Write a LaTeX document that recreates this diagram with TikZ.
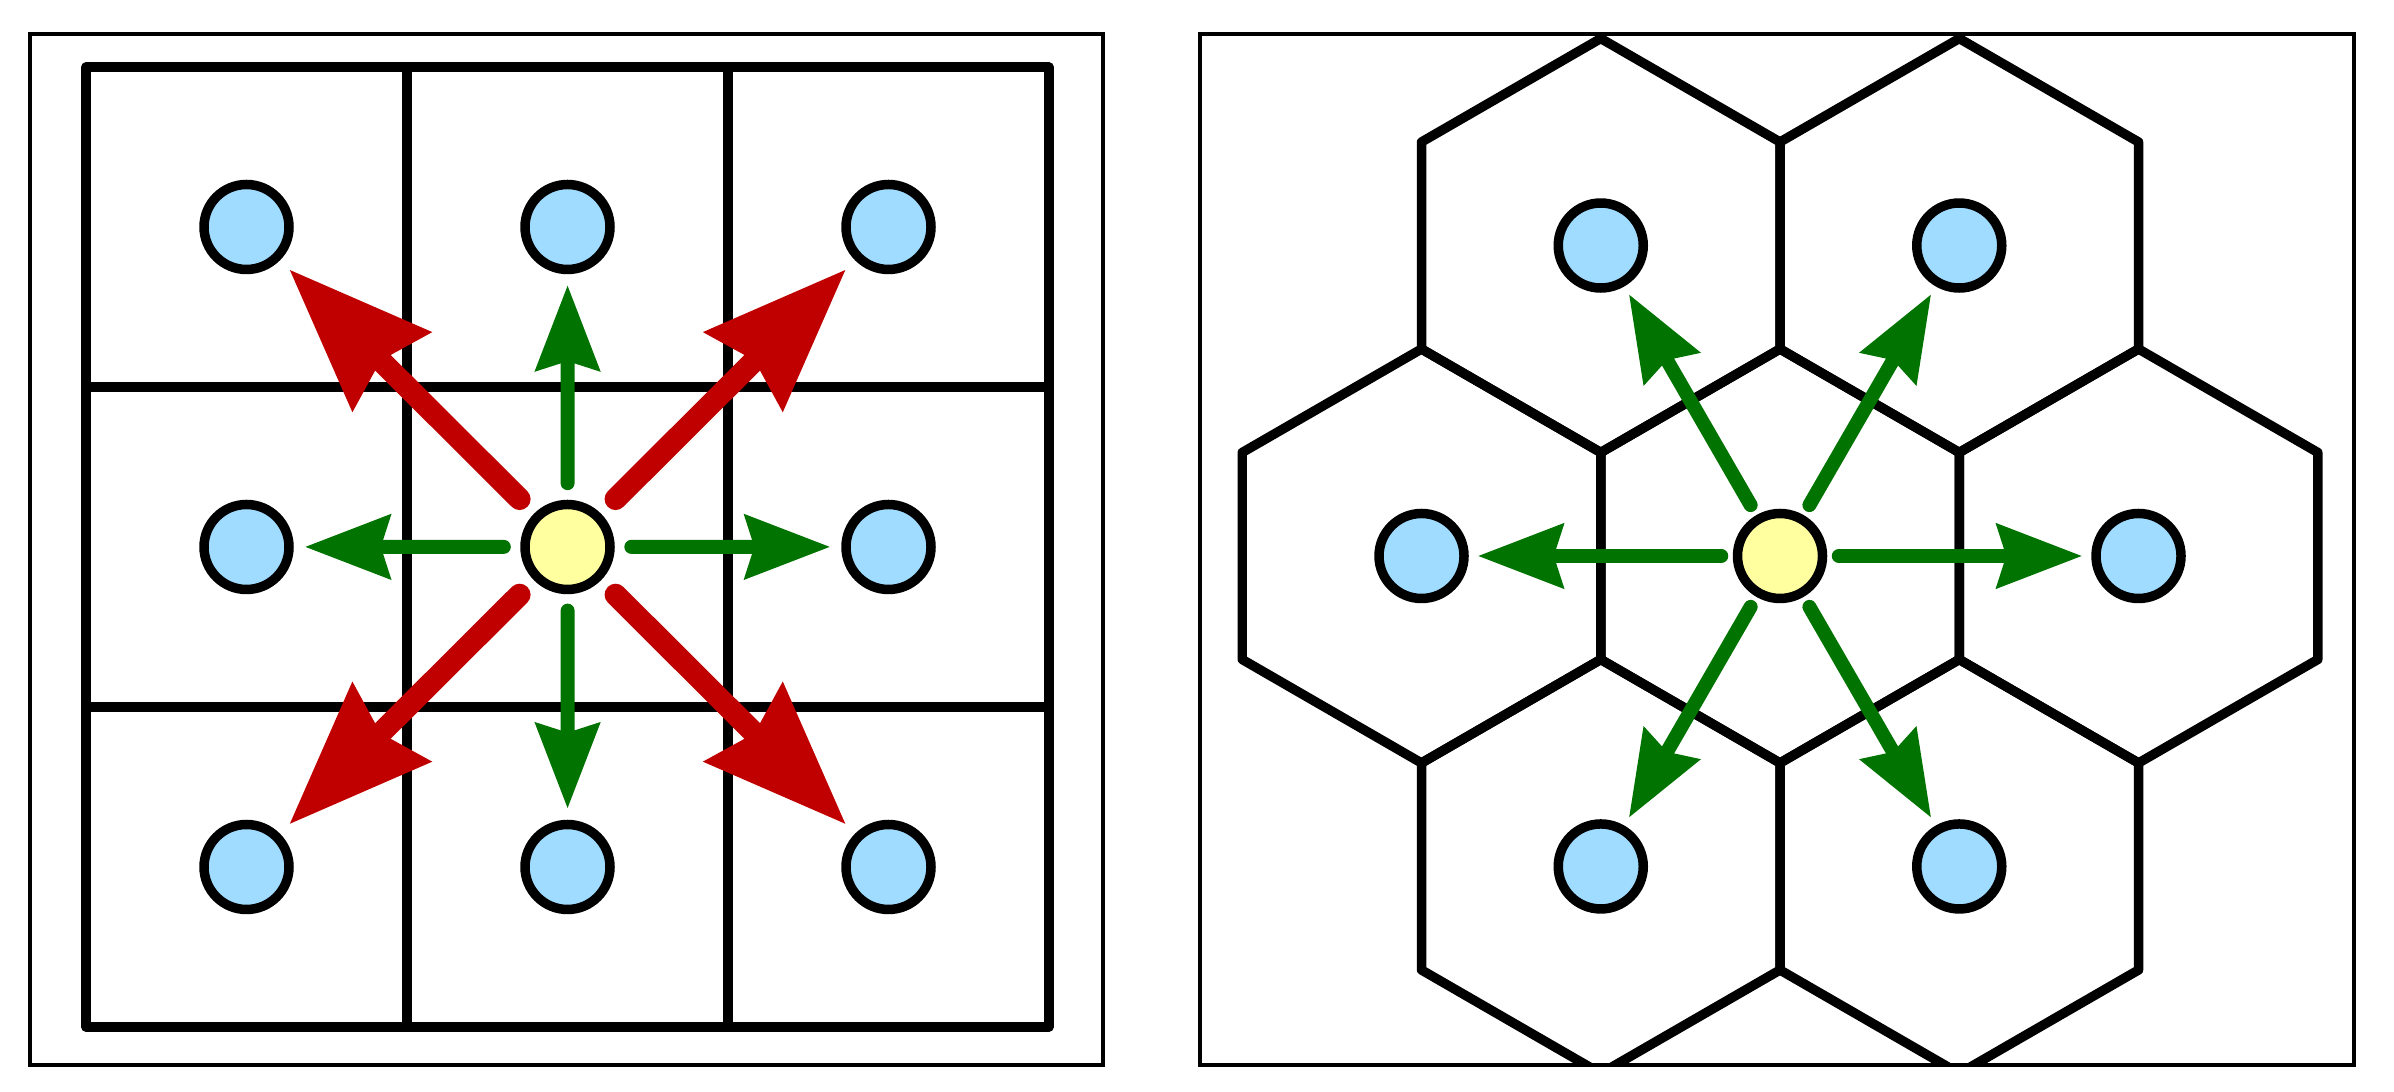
\documentclass[tikz,border=0pt]{standalone}
\usetikzlibrary{arrows.meta}
\definecolor{cellblue}{RGB}{160,220,255}
\definecolor{cellyellow}{RGB}{255,255,160}
\definecolor{darkgreen}{RGB}{0,115,0}
\definecolor{darkred}{RGB}{192,0,0}

\begin{document}
\begin{tikzpicture}[
    wall/.style={line width=2.7pt, line join=round, line cap=round},
    frame/.style={line width=1.2pt},
    site/.style={circle, draw, line width=2.7pt, fill=cellblue, minimum size=0.85cm, inner sep=0pt},
    origin/.style={site, fill=cellyellow},
    near/.style={darkgreen, line width=0.14cm, line cap=round, -{Stealth[length=0.85cm, width=0.63cm, inset=0.09cm]}},
    far/.style={darkred, line width=0.22cm, line cap=round, -{Stealth[length=1.43cm, width=1.08cm, inset=0.14cm]}}
  ]
  \useasboundingbox (0,0) rectangle (23.94,10.92);

  % square cells, left
  \draw[frame] (0.30,0.27) rectangle (11.03,10.58);
  \begin{scope}[shift={(0.86,0.65)}, xscale=3.21, yscale=3.2]
    \draw[wall] (0,0) grid (3,3);
    \foreach \i/\j in {0/0,0/1,0/2,1/0,1/2,2/0,2/1,2/2}
      \node[site] (s\i\j) at (\i+0.5,\j+0.5) {};
    \node[origin] (s11) at (1.5,1.5) {};
    % four edge neighbours
    \foreach \t in {01,10,12,21}
      \draw[near, shorten <=0.165cm, shorten >=0.11cm] (s11) -- (s\t);
    % four corner neighbours
    \foreach \t in {00,02,20,22}
      \draw[far, shorten <=0.205cm, shorten >=0.13cm] (s11) -- (s\t);
  \end{scope}

  % hexagonal cells, right
  \begin{scope}[shift={(17.80,5.36)}]
    \begin{scope}
      \clip (-5.80,-5.09) rectangle (5.74,5.22);
      \draw[wall] (30:2.07) \foreach \b in {90,150,...,330} {-- (\b:2.07)} -- cycle;
      \foreach \a in {0,60,...,300}
        \draw[wall, shift={(\a:3.585)}] (30:2.07) \foreach \b in {90,150,...,330} {-- (\b:2.07)} -- cycle;
    \end{scope}
    \draw[frame] (-5.80,-5.09) rectangle (5.74,5.22);
    \node[origin] (h) at (0,0) {};
    \foreach \a in {0,60,...,300} {
      \node[site] (h\a) at (\a:3.585) {};
      \draw[near, shorten <=0.115cm, shorten >=0.09cm] (h) -- (h\a);
    }
  \end{scope}
\end{tikzpicture}
\end{document}
